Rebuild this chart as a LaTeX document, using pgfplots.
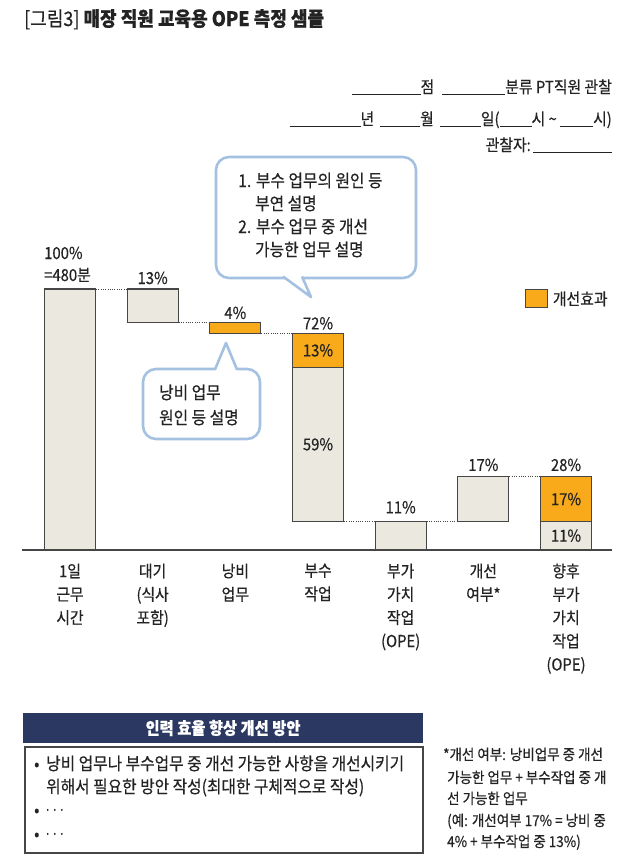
\documentclass[border=0pt]{standalone}
\usepackage{fontspec}
\setmainfont[FakeStretch=0.9,FakeBold=0.5]{Noto Sans CJK KR}
\usepackage{pgfplots}
\pgfplotsset{compat=1.18}
\usepackage{pgfplotstable}

\definecolor{beigeC}{RGB}{234,232,223}
\definecolor{orangeC}{RGB}{248,170,26}
\definecolor{edgeC}{RGB}{70,70,70}
\definecolor{bubC}{RGB}{165,193,226}
\definecolor{navyC}{RGB}{42,56,98}
\definecolor{txtC}{RGB}{35,35,35}

\pgfplotstableread{
x base beige orange
0 0 100 0
1 87 13 0
2 83 0 4
3 11 59 13
4 0 11 0
5 11 17 0
6 0 11 17
}\wf

\newcommand{\ul}[1]{\rule[-1.5pt]{#1pt}{0.7pt}}
\newcommand{\fsz}[2]{\fontsize{#1pt}{#2pt}\selectfont}

\pgfplotsset{
  common/.style={
    at={(22pt,-550pt)}, anchor=south west, scale only axis,
    width=590pt, height=261pt,
    xmin=-0.5806, xmax=6.556, ymin=0, ymax=100,
    clip=false,
  },
}
\tikzset{
  conn/.style={draw=edgeC, line width=1pt, dash pattern=on 1pt off 1.3pt},
  lab/.style={font=\fsz{16.5}{20}, text=txtC, inner sep=0pt},
}

\begin{document}
\begin{tikzpicture}
\useasboundingbox (0pt,0pt) rectangle (640pt,-860pt);

\begin{axis}[common,
  ybar stacked, bar width=51pt,
  axis x line*=bottom, axis y line=none,
  x axis line style={edgeC, line width=1.4pt},
  xtick={0,...,6}, ytick=\empty,
  xticklabels={{1일\\근무\\시간},{대기\\(식사\\포함)},{낭비\\업무},{부수\\작업},{부가\\가치\\작업\\(OPE)},{개선\\여부*},{향후\\부가\\가치\\작업\\(OPE)}},
  xticklabel style={align=center, font=\fsz{16.5}{23.3}, text=txtC, anchor=north, yshift=-10pt},
  major tick length=0pt,
  legend style={at={(axis cs:5.50,96.2)}, anchor=west, draw=none, fill=none, inner sep=0pt,
    font=\fsz{16.5}{19}, text=txtC},
  legend image code/.code={\draw[fill=orangeC, draw=edgeC, line width=1pt] (0pt,-9pt) rectangle (22pt,9pt); \path (25pt,0pt);},
]
\addplot[draw=none, fill=none, forget plot] table[x=x,y=base]{\wf};
\addplot[fill=beigeC, draw=edgeC, line width=1.1pt, forget plot] table[x=x,y=beige]{\wf};
\addplot[fill=orangeC, draw=edgeC, line width=1.1pt] table[x=x,y=orange]{\wf};
\addlegendentry{개선효과}
\end{axis}

\begin{axis}[common, hide axis]
\addplot[conn, forget plot] coordinates {(0.3145,100) (0.6855,100)};
\addplot[conn, forget plot] coordinates {(1.3145,87) (1.6855,87)};
\addplot[conn, forget plot] coordinates {(2.3145,83) (2.6855,83)};
\addplot[conn, forget plot] coordinates {(3.3145,11) (3.6855,11)};
\addplot[conn, forget plot] coordinates {(4.3145,11) (4.6855,11)};
\addplot[conn, forget plot] coordinates {(5.3145,28) (5.6855,28)};
\node[lab, anchor=base west] at (axis cs:-0.3145,100) [yshift=30pt] {100\%};
\node[lab, anchor=base west] at (axis cs:-0.3145,100) [yshift=8pt] {=480분};
\node[lab, anchor=base] at (axis cs:1,100) [yshift=5pt] {13\%};
\node[lab, anchor=base] at (axis cs:2,87) [yshift=4pt] {4\%};
\node[lab, anchor=base] at (axis cs:3,83) [yshift=4pt] {72\%};
\node[lab] at (axis cs:3,76.5) {13\%};
\node[lab] at (axis cs:3,40.5) {59\%};
\node[lab, anchor=base] at (axis cs:4,11) [yshift=8pt] {11\%};
\node[lab, anchor=base] at (axis cs:5,28) [yshift=6pt] {17\%};
\node[lab, anchor=base] at (axis cs:6,28) [yshift=6pt] {28\%};
\node[lab] at (axis cs:6,19.5) {17\%};
\node[lab] at (axis cs:6,5.5) {11\%};
\end{axis}

\begin{scope}[x=1pt,y=-1pt]
% title
\node[anchor=base west, font=\fsz{20}{24}, text=txtC, inner sep=0pt] at (24,26) {[그림3] \textbf{매장 직원 교육용 OPE 측정 샘플}};
% form
\begin{scope}[every node/.style={anchor=base east, font=\fsz{16.5}{19}, text=txtC, inner sep=0pt}]
\node at (612,93) {\ul{69}점\hspace{8pt}\ul{63}분류 PT직원 관찰};
\node at (612,125) {\ul{71}년\hspace{6pt}\ul{40}월\hspace{6pt}\ul{41}일(\ul{32}시 \textasciitilde\ \ul{33}시)};
\node at (612,151) {관찰자:\hspace{2pt}\ul{79}};
\end{scope}
% bubble 1
\draw[bubC, line width=2.6pt, fill=white, rounded corners=13pt] (216,157) rectangle (416,278);
\fill[white] (283,276) -- (311,297) -- (302,276) -- cycle;
\draw[bubC, line width=2.6pt, line join=round] (283,276.5) -- (311,297) -- (302,276.5);
\begin{scope}[every node/.style={anchor=base west, font=\fsz{17.5}{20}, text=txtC, inner sep=0pt}]
\node at (238,187) {1. 부수 업무의 원인 등};
\node at (255,210) {부연 설명};
\node at (238,233) {2. 부수 업무 중 개선};
\node at (255,256) {가능한 업무 설명};
\end{scope}
% bubble 2
\draw[bubC, line width=2.6pt, fill=white, rounded corners=13pt] (143,369) rectangle (260,439);
\fill[white] (215,372) -- (226,343) -- (237,372) -- cycle;
\draw[bubC, line width=2.6pt, line join=round] (215,369.5) -- (226,343) -- (237,369.5);
\begin{scope}[every node/.style={anchor=base west, font=\fsz{17.5}{20}, text=txtC, inner sep=0pt}]
\node at (159,399) {낭비 업무};
\node at (159,424) {원인 등 설명};
\end{scope}
% bottom box
\fill[navyC] (23,713) rectangle (423,743);
\node[text=white, font=\fsz{17}{20}\bfseries, inner sep=0pt] at (223,728) {인력 효율 향상 개선 방안};
\draw[edgeC, line width=1.3pt] (25,747) rectangle (423,853);
\begin{scope}[every node/.style={anchor=base west, font=\fsz{17.5}{20}, text=txtC, inner sep=0pt}]
\node[font=\fsz{17}{20}] at (34,770) {•};
\node at (46,770) {낭비 업무나 부수업무 중 개선 가능한 사항을 개선시키기};
\node at (46,793) {위해서 필요한 방안 작성(최대한 구체적으로 작성)};
\node[font=\fsz{17}{20}] at (34,816) {•};
\node[font=\fsz{14}{16}] at (44,815) {···};
\node[font=\fsz{17}{20}] at (34,840) {•};
\node[font=\fsz{14}{16}] at (44,839) {···};
\end{scope}
\begin{scope}[every node/.style={anchor=base west, font=\fsz{15}{18}, text=txtC, inner sep=0pt}]
\node at (443,760) {*개선 여부: 낭비업무 중 개선};
\node at (447,783) {가능한 업무 + 부수작업 중 개};
\node at (447,804) {선 가능한 업무};
\node at (447,826) {(예: 개선여부 17\% = 낭비 중};
\node at (447,847) {4\% + 부수작업 중 13\%)};
\end{scope}
\end{scope}
\end{tikzpicture}
\end{document}
